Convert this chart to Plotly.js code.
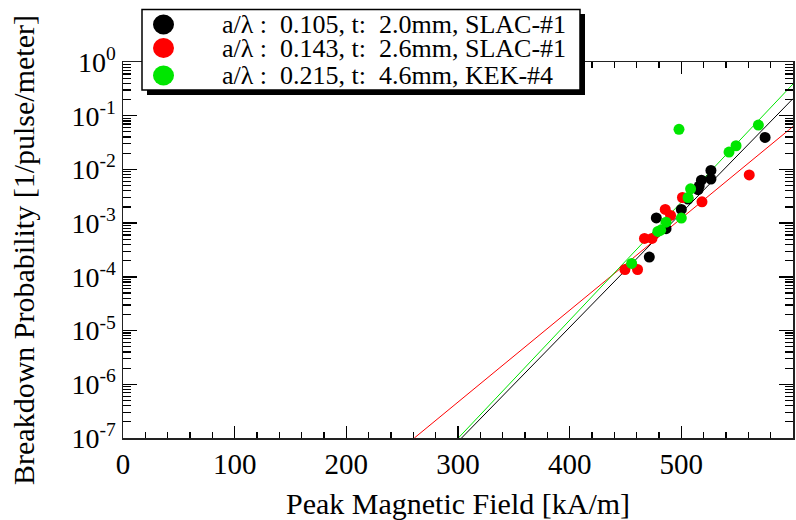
<!DOCTYPE html>
<html>
<head>
<meta charset="utf-8">
<script src="https://cdn.plot.ly/plotly-3.0.1.min.js"></script>
<style>html,body{margin:0;padding:0;background:#fff;}#chart{width:796px;height:520px;}</style>
</head>
<body>
<div id="chart"></div>
<script>
// ---- data ----
const seriesNames = [
  "a/λ :  0.105, t:  2.0mm, SLAC-#1",
  "a/λ :  0.143, t:  2.6mm, SLAC-#1",
  "a/λ :  0.215, t:  4.6mm, KEK-#4"
];
const seriesColors = ["#000000", "#ff0000", "#00e600"];

const blackField = [575, 526.5, 526.5, 518, 516, 515, 506, 500, 477.6, 486.3, 471.3];
const blackProb  = [0.0395, 0.0096, 0.0066, 0.0063, 0.0049, 0.0042, 0.0028, 0.0018, 0.00125, 0.00079, 0.000233];

const redField = [560.8, 518.5, 501, 485.6, 490.4, 467, 473.7, 449.5, 460.8];
const redProb  = [0.0079, 0.0025, 0.0030, 0.0018, 0.00139, 0.00052, 0.00052, 0.000137, 0.000137];

const greenField = [497.9, 569, 549, 542.7, 508.3, 506, 500, 486.3, 481.5, 479, 455.5];
const greenProb  = [0.0557, 0.067, 0.0276, 0.021, 0.00436, 0.0030, 0.00124, 0.00104, 0.00074, 0.0007, 0.000178];

// fitted lines (end points)
const blackFitX = [303.2, 600], blackFitY = [1e-7, 0.208];
const redFitX   = [260.9, 600], redFitY   = [1e-7, 0.063];
const greenFitX = [300.3, 600], greenFitY = [1e-7, 0.39];

const xTickVals = [0, 100, 200, 300, 400, 500, 600];
const xTickText = ["0", "100", "200", "300", "400", "500", "600"];
const yTickVals = [1, 1e-1, 1e-2, 1e-3, 1e-4, 1e-5, 1e-6, 1e-7];
const yTickText = ["10<sup>0</sup>", "10<sup>-1</sup>", "10<sup>-2</sup>", "10<sup>-3</sup>",
                   "10<sup>-4</sup>", "10<sup>-5</sup>", "10<sup>-6</sup>", "10<sup>-7</sup>"];

const xTitle = "Peak Magnetic Field [kA/m]";
const yTitle = "Breakdown Probability [1/pulse/meter]";

const FONT = "Liberation Serif, Times New Roman, serif";

function fitTrace(x, y, c) { return {x: x, y: y, mode: "lines", line: {color: c, width: 1}, showlegend: false}; }
function ptTrace(x, y, c, n) { return {x: x, y: y, mode: "markers", name: n, marker: {color: c, size: 11}, showlegend: false}; }
const data = [
  fitTrace(blackFitX, blackFitY, seriesColors[0]),
  fitTrace(redFitX, redFitY, seriesColors[1]),
  fitTrace(greenFitX, greenFitY, seriesColors[2]),
  ptTrace(blackField, blackProb, seriesColors[0], seriesNames[0]),
  ptTrace(redField, redProb, seriesColors[1], seriesNames[1]),
  ptTrace(greenField, greenProb, seriesColors[2], seriesNames[2])
];

// ---- legend box drawn as shapes + annotations (paper coordinates from the pixel layout) ----
const L = 123, R = 793, T = 62, B = 438;
const px = v => (v - L) / (R - L);
const py = v => (B - v) / (B - T);
const rowY = [24.5, 48, 75.5];
const shapes = [
  {type: "rect", xref: "paper", yref: "paper", x0: px(147), x1: px(585), y0: py(95), y1: py(14), fillcolor: "#000", line: {width: 0}, layer: "above"},
  {type: "rect", xref: "paper", yref: "paper", x0: px(142), x1: px(580), y0: py(90), y1: py(9.5), fillcolor: "#fff", line: {color: "#000", width: 1.5}, layer: "above"}
];
rowY.forEach((yy, i) => shapes.push({type: "circle", xref: "paper", yref: "paper",
  x0: px(153), x1: px(174), y0: py(yy + 10), y1: py(yy - 10), fillcolor: seriesColors[i], line: {width: 0}, layer: "above"}));
const annotations = rowY.map((yy, i) => ({xref: "paper", yref: "paper", x: px(220), y: py(yy),
  xanchor: "left", yanchor: "middle", text: seriesNames[i], showarrow: false, font: {family: FONT, size: 26, color: "#000"}}));

const layout = {
  width: 796, height: 520, margin: {l: 123, r: 3, t: 62, b: 82, pad: 0},
  paper_bgcolor: "#fff", plot_bgcolor: "#fff", font: {family: FONT, color: "#000"}, showlegend: false,
  xaxis: {range: [0, 600], tickmode: "array", tickvals: xTickVals, ticktext: xTickText,
    showgrid: false, zeroline: false, showline: true, linecolor: "#222", linewidth: 1.5, mirror: "allticks",
    ticks: "inside", ticklen: 12, tickwidth: 1.2, tickcolor: "#000",
    minor: {dtick: 20, tick0: 0, ticks: "inside", ticklen: 6, tickwidth: 1.2, tickcolor: "#000", showgrid: false},
    tickfont: {family: FONT, size: 29, color: "#000"},
    title: {text: xTitle, font: {family: FONT, size: 30, color: "#000"}, standoff: 18}, automargin: false},
  yaxis: {type: "log", range: [-7, 0], tickmode: "array", tickvals: yTickVals, ticktext: yTickText,
    showgrid: false, zeroline: false, showline: true, linecolor: "#222", linewidth: 1.5, mirror: "allticks",
    ticks: "inside", ticklen: 14, tickwidth: 1.5, tickcolor: "#000",
    minor: {dtick: "D1", ticks: "inside", ticklen: 8, tickwidth: 1.2, tickcolor: "#000", showgrid: false},
    tickfont: {family: FONT, size: 28, color: "#000"},
    title: {text: yTitle, font: {family: FONT, size: 30, color: "#000"}, standoff: 28}, automargin: false},
  shapes: shapes, annotations: annotations
};

Plotly.newPlot("chart", data, layout, {displayModeBar: false, staticPlot: true}).then(function () {
  // make sure the axis tick marks Plotly generated sit on top of the plot contents (below the legend box)
  const svg = document.querySelector("#chart svg.main-svg");
  const ticks = document.querySelectorAll("#chart path.ticks");
  if (!svg || !ticks.length) return;
  const g = document.createElementNS("http://www.w3.org/2000/svg", "g");
  ticks.forEach(t => g.appendChild(t.cloneNode(true)));
  const above = svg.querySelector("g.layer-above");
  if (above) svg.insertBefore(g, above); else svg.appendChild(g);
});
</script>
</body>
</html>
